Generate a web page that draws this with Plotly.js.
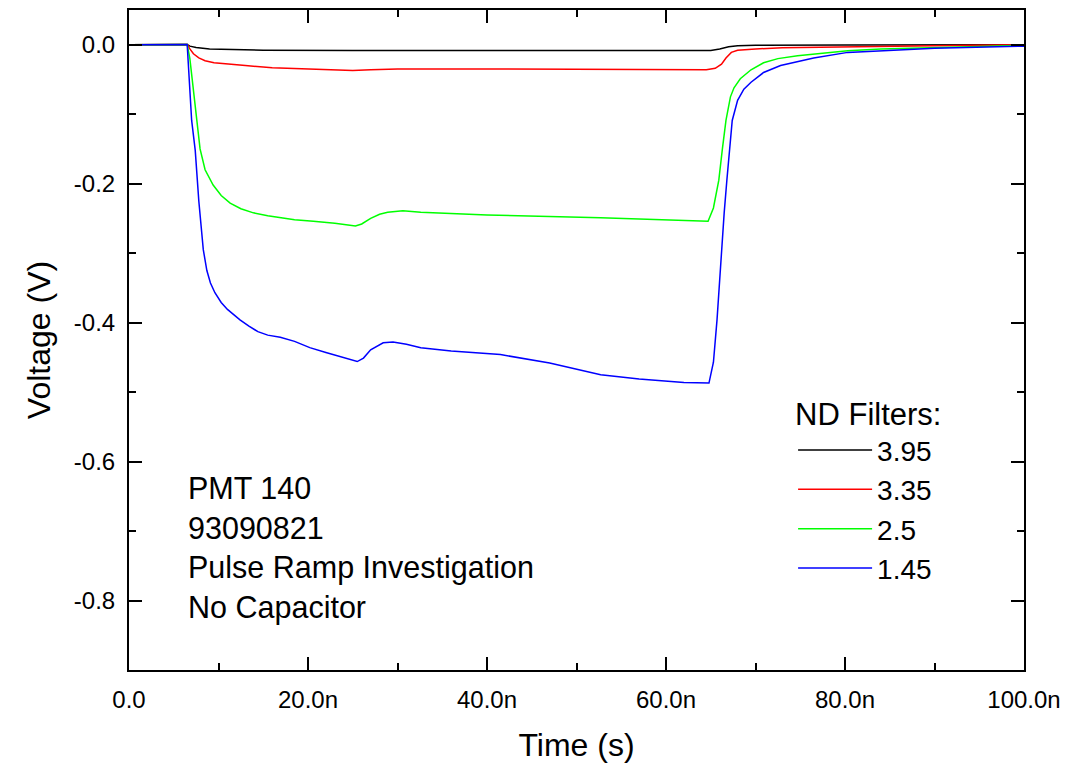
<!DOCTYPE html>
<html>
<head>
<meta charset="utf-8">
<script src="https://cdn.plot.ly/plotly-3.0.1.min.js"></script>
<style>
html, body { margin: 0; padding: 0; background: #ffffff; }
#chart { width: 1084px; height: 766px; }
</style>
</head>
<body>
<div id="chart"></div>
<script>
// ---- Data (time in ns, voltage in V) ----
const seriesNames = ["3.95", "3.35", "2.5", "1.45"];
const seriesColors = ["#000000", "#ff0000", "#00ff00", "#0000ff"];

const t395 = [0, 6.5, 6.8, 7.5, 9, 12, 15, 25, 40, 55, 63, 65, 66, 67, 68, 70, 80, 100];
const v395 = [0, 0.0005, -0.002, -0.004, -0.006, -0.0072, -0.0078, -0.0082, -0.0085, -0.0085, -0.0085, -0.0082, -0.006, -0.003, -0.0015, -0.0008, -0.0003, 0];

const t335 = [0, 6.5, 6.8, 7.2, 7.8, 8.5, 9.5, 11, 13, 16, 19, 22, 25, 27, 30, 40, 50, 60, 64.5, 65.5, 66.2, 66.7, 67.3, 68, 70, 73, 80, 90, 100];
const v335 = [0, 0.0005, -0.006, -0.013, -0.019, -0.023, -0.026, -0.028, -0.030, -0.033, -0.034, -0.0355, -0.037, -0.036, -0.035, -0.035, -0.035, -0.035, -0.036, -0.034, -0.028, -0.019, -0.011, -0.008, -0.006, -0.0045, -0.003, -0.0015, 0];

const t25 = [0, 6.5, 6.8, 7.2, 7.6, 7.94, 8.5, 9.4, 10.3, 11.3, 12.5, 13.9, 15.5, 16.9, 18.5, 20.6, 23, 25.3, 26, 27, 28, 28.9, 30.6, 32.6, 40, 52.7, 60, 64.7, 65.3, 65.9, 66.3, 66.7, 67.2, 67.6, 68.3, 69.5, 70.9, 72.5, 74.7, 77.5, 80.3, 84, 90, 100];
const v25 = [0, 0.0005, -0.02, -0.065, -0.108, -0.150, -0.180, -0.202, -0.217, -0.228, -0.236, -0.242, -0.246, -0.249, -0.252, -0.254, -0.257, -0.261, -0.258, -0.250, -0.244, -0.241, -0.239, -0.241, -0.245, -0.249, -0.252, -0.254, -0.235, -0.195, -0.150, -0.109, -0.075, -0.062, -0.049, -0.036, -0.026, -0.020, -0.016, -0.012, -0.0086, -0.006, -0.004, -0.001];

const t145 = [0, 6.5, 7.0, 7.4, 7.8, 8.3, 8.7, 9.1, 9.6, 10.3, 11.0, 11.7, 12.4, 13.4, 14.4, 15.5, 16.9, 18.5, 20.2, 22, 24.0, 25.5, 26.2, 27, 28.4, 29.5, 31, 32.6, 36, 41.5, 47, 52.7, 57, 62, 64.8, 65.3, 65.7, 66.1, 66.5, 66.8, 67.4, 68, 68.7, 69.5, 70.9, 72.8, 76.5, 80.3, 84, 90, 100];
const v145 = [0, 0.0005, -0.109, -0.152, -0.225, -0.295, -0.325, -0.343, -0.357, -0.371, -0.381, -0.389, -0.396, -0.405, -0.413, -0.418, -0.421, -0.427, -0.436, -0.443, -0.450, -0.456, -0.451, -0.439, -0.429, -0.428, -0.431, -0.436, -0.441, -0.446, -0.458, -0.475, -0.481, -0.486, -0.487, -0.457, -0.396, -0.314, -0.242, -0.195, -0.109, -0.080, -0.064, -0.054, -0.040, -0.030, -0.019, -0.011, -0.009, -0.005, -0.002];

// ---- Ticks ----
const xTickVals = [0, 20e-9, 40e-9, 60e-9, 80e-9, 100e-9];
const xTickText = ["0.0", "20.0n", "40.0n", "60.0n", "80.0n", "100.0n"];
const xMinorVals = [10e-9, 30e-9, 50e-9, 70e-9, 90e-9];
const yTickVals = [0, -0.2, -0.4, -0.6, -0.8];
const yTickText = ["0.0", "-0.2", "-0.4", "-0.6", "-0.8"];
const yMinorVals = [-0.1, -0.3, -0.5, -0.7];

const noteLines = ["PMT 140", "93090821", "Pulse Ramp Investigation", "No Capacitor"];

// ---- Build ----
const FONT = "Arial, 'Liberation Sans', sans-serif";
const toSec = arr => arr.map(v => v * 1e-9);
const times = [t395, t335, t25, t145];
const volts = [v395, v335, v25, v145];

const traces = seriesNames.map((name, i) => ({
  type: "scatter",
  mode: "lines",
  name: name,
  x: toSec(times[i]),
  y: volts[i],
  line: { color: seriesColors[i], width: 1.5 }
}));

const axisCommon = {
  showgrid: false,
  zeroline: false,
  showline: true,
  linecolor: "#000000",
  linewidth: 2,
  mirror: "allticks",
  ticks: "inside",
  ticklen: 13,
  tickwidth: 2,
  tickcolor: "#000000",
  tickfont: { family: FONT, size: 24, color: "#000000" },
  tickmode: "array"
};

const layout = {
  width: 1084,
  height: 766,
  margin: { l: 129, r: 60, t: 10, b: 96 },
  paper_bgcolor: "#ffffff",
  plot_bgcolor: "#ffffff",
  font: { family: FONT, color: "#000000" },
  showlegend: true,
  legend: {
    x: 0.742, y: 0.432, xanchor: "left", yanchor: "top",
    bgcolor: "rgba(0,0,0,0)",
    borderwidth: 0,
    font: { family: FONT, size: 28, color: "#000000" },
    title: { text: "ND Filters:", font: { family: FONT, size: 31, color: "#000000" } },
    tracegroupgap: 0,
    itemwidth: 74
  },
  xaxis: Object.assign({}, axisCommon, {
    range: [0, 100e-9],
    tickvals: xTickVals,
    ticktext: xTickText,
    ticklabelstandoff: 7,
    minor: { tickmode: "array", tickvals: xMinorVals, ticks: "inside", ticklen: 7, tickwidth: 2, tickcolor: "#000000" },
    title: { text: "Time (s)", font: { family: FONT, size: 32, color: "#000000" }, standoff: 22 }
  }),
  yaxis: Object.assign({}, axisCommon, {
    range: [-0.9, 0.05],
    tickvals: yTickVals,
    ticktext: yTickText,
    ticklabelstandoff: 7,
    minor: { tickmode: "array", tickvals: yMinorVals, ticks: "inside", ticklen: 7, tickwidth: 2, tickcolor: "#000000" },
    title: { text: "Voltage (V)", font: { family: FONT, size: 32, color: "#000000" }, standoff: 14 }
  }),
  annotations: [{
    xref: "paper", yref: "paper",
    x: 0.064, y: 0.305, xanchor: "left", yanchor: "top",
    align: "left",
    showarrow: false,
    text: noteLines.join("<br>"),
    font: { family: FONT, size: 30.5, color: "#000000" }
  }]
};

Plotly.newPlot("chart", traces, layout, { displayModeBar: false, staticPlot: true });
</script>
</body>
</html>
